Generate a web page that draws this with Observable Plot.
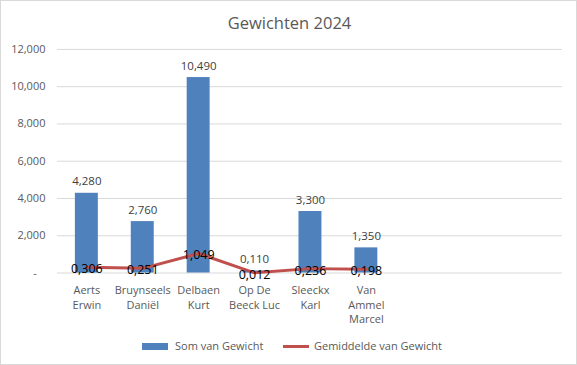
<!DOCTYPE html>
<html><head><meta charset="utf-8">
<script src="https://cdn.jsdelivr.net/npm/d3@7"></script>
<script src="https://cdn.jsdelivr.net/npm/@observablehq/plot@0.6"></script>
<style>
html,body{margin:0;padding:0;background:#fff;}
#wrap{position:relative;width:577px;height:365px;box-sizing:border-box;border:1px solid #d9d9d9;overflow:hidden;font-family:"Open Sans",sans-serif;}
#title{position:absolute;left:0;top:10px;width:577px;text-align:center;font-size:16.5px;color:#595959;}
#chart{position:absolute;left:-1px;top:-1px;}
.leg{position:absolute;font-size:11px;color:#595959;top:337px;line-height:16px;}
</style></head>
<body>
<div id="wrap">
  <div id="chart"></div>
  <div id="title">Gewichten 2024</div>
  <div class="leg" style="left:141px;"><span style="display:inline-block;width:26px;height:7px;background:#4f81bd;vertical-align:middle;margin-right:7px;position:relative;top:-1px"></span>Som van Gewicht</div>
  <div class="leg" style="left:282px;"><span style="display:inline-block;width:26px;height:3px;background:#c0504d;vertical-align:middle;margin-right:5px;position:relative;top:-1px"></span>Gemiddelde van Gewicht</div>
</div>
<script>
const categories = ["Aerts\nErwin", "Bruynseels\nDaniël", "Delbaen\nKurt", "Op De\nBeeck Luc", "Sleeckx\nKarl", "Van\nAmmel\nMarcel"];
const somGewicht = [4.280, 2.760, 10.490, 0.110, 3.300, 1.350];
const gemGewicht = [0.306, 0.251, 1.049, 0.012, 0.236, 0.198];
const emptyCategories = ["_e1", "_e2", "_e3"];
const yTicks = [0, 2, 4, 6, 8, 10, 12];

const rows = categories.map((c, i) => ({cat: c, som: somGewicht[i], gem: gemGewicht[i]}));
const fmt = v => v.toFixed(3).replace(".", ",");
const tickFmt = v => v === 0 ? "-\u00a0\u00a0\u00a0" : fmt(v);

const plot = Plot.plot({
  width: 577,
  height: 365,
  marginTop: 49,
  marginBottom: 92,
  marginLeft: 57,
  marginRight: 14,
  style: {fontFamily: "Open Sans, sans-serif", fontSize: "11px", color: "#595959", background: "transparent"},
  x: {domain: [...categories, ...emptyCategories], paddingInner: 0.59, paddingOuter: 0.295, label: null},
  y: {domain: [0, 12], label: null},
  marks: [
    Plot.gridY(yTicks, {stroke: "#d9d9d9", strokeOpacity: 1}),
    Plot.axisY(yTicks, {tickFormat: tickFmt, tickSize: 0, tickPadding: 12, fill: "#595959", fontSize: 11}),
    Plot.axisX({tickSize: 0, tickPadding: 10, tickFormat: d => d.startsWith("_") ? "" : d, fill: "#595959", fontSize: 11, lineHeight: 1.36}),
    Plot.barY(rows, {x: "cat", y: "som", fill: "#4f81bd"}),
    Plot.text(rows, {x: "cat", y: "som", text: d => fmt(d.som), lineAnchor: "bottom", dy: -8, fill: "#404040", fontSize: 11.5}),
    Plot.line(rows, {x: "cat", y: "gem", stroke: "#c0504d", strokeWidth: 3, strokeLinejoin: "round", strokeLinecap: "round"}),
    Plot.text(rows, {x: "cat", y: "gem", text: d => fmt(d.gem), dy: 2, fill: "#000", fontSize: 12.5})
  ]
});
document.getElementById("chart").appendChild(plot);
</script>
</body></html>
